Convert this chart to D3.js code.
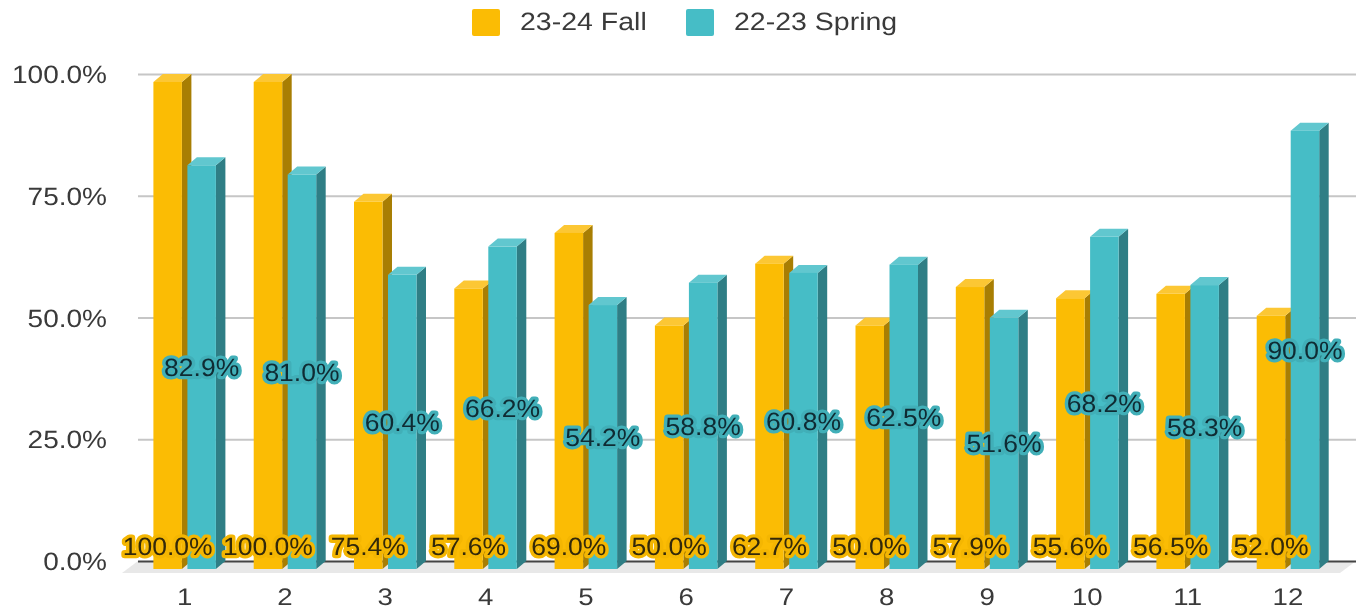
<!DOCTYPE html>
<html>
<head>
<meta charset="utf-8">
<script src="https://cdnjs.cloudflare.com/ajax/libs/d3/7.8.5/d3.min.js"></script>
<style>
  html, body { margin: 0; padding: 0; background: #fff; }
  text { font-family: "Liberation Sans", sans-serif; text-rendering: geometricPrecision; }
  svg { display: block; filter: blur(0.45px); }
</style>
</head>
<body>
<svg id="chart"></svg>
<script>
const categories = ["1", "2", "3", "4", "5", "6", "7", "8", "9", "10", "11", "12"];
const seriesNames = ["23-24 Fall", "22-23 Spring"];
const fall = [100.0, 100.0, 75.4, 57.6, 69.0, 50.0, 62.7, 50.0, 57.9, 55.6, 56.5, 52.0];
const spring = [82.9, 81.0, 60.4, 66.2, 54.2, 58.8, 60.8, 62.5, 51.6, 68.2, 58.3, 90.0];
const yTicks = [0, 25, 50, 75, 100];

const W = 1356, H = 610;
const depthX = 9.5, depthY = 8;

const colors = [
    { front: "#fbbc04", side: "#a87e03", top: "#fcc734", halo: "#f4b602", text: "#33290a" },
    { front: "#46bdc6", side: "#2f7e85", top: "#61c7cf", halo: "#41afb8", text: "#0f2b33" }
];

const svg = d3.select("#chart").attr("width", W).attr("height", H);

const x = d3.scaleBand().domain(categories).range([134.5, 1338.1]);
const x1 = d3.scaleBand().domain(seriesNames).range([0, x.bandwidth()])
    .paddingInner(0.162).paddingOuter(0.556);
const y = d3.scaleLinear().domain([0, 100]).range([561, 74]);

// the reference text is wider than the font, so stretch each label sideways
function stretch(sel, factor) {
    sel.each(function () {
        const t = d3.select(this);
        const tx = +t.attr("x") || 0, ty = +t.attr("y") || 0;
        t.attr("x", 0).attr("y", 0)
            .attr("transform", `translate(${tx},${ty}) scale(${factor},1)`);
    });
}

// floor under the bars
svg.append("polygon")
    .attr("points", [[138, 561], [1356, 561], [1340, 573], [122, 573]].join(" "))
    .attr("fill", "#e8e8e8");

// y axis + gridlines
const yAxis = svg.append("g")
    .attr("transform", "translate(138,0)")
    .call(d3.axisLeft(y).tickValues(yTicks).tickFormat(d => d.toFixed(1) + "%").tickSize(-(W - 138)).tickPadding(31));
yAxis.select(".domain").remove();
yAxis.selectAll("line").attr("stroke", d => d === 0 ? "#444" : "#c6c6c6").attr("stroke-width", 2);
yAxis.selectAll("text")
    .attr("font-size", 25).attr("fill", "#3a3a3a")
    .attr("dy", "0.34em").style("font-family", "'Liberation Sans', sans-serif")
    .call(stretch, 1.12);

// x axis
const xAxis = svg.append("g")
    .attr("transform", "translate(0,583.8)")
    .call(d3.axisBottom(x).tickSize(0).tickPadding(4));
xAxis.select(".domain").remove();
xAxis.selectAll("text")
    .attr("font-size", 24).attr("fill", "#3a3a3a").attr("dy", "0.71em")
    .style("font-family", "'Liberation Sans', sans-serif")
    .call(stretch, 1.15);

// 3d bars
const rows = categories.map((c, i) => ({ cat: c, values: [fall[i], spring[i]] }));

const groups = svg.append("g").selectAll("g")
    .data(rows)
    .enter().append("g")
    .attr("transform", d => `translate(${x(d.cat)},0)`);

const bars = groups.selectAll("g")
    .data(d => d.values.map((v, s) => ({ v, s })))
    .enter().append("g");

const bw = x1.bandwidth();
const frontTop = d => y(d.v) + depthY;
const frontBottom = y(0) + depthY;
const left = d => x1(seriesNames[d.s]);

bars.append("polygon")
    .attr("fill", d => colors[d.s].side)
    .attr("points", d => {
        const r = left(d) + bw;
        return [[r, frontTop(d)], [r + depthX, y(d.v)], [r + depthX, y(0)], [r, frontBottom]].join(" ");
    });
bars.append("polygon")
    .attr("fill", d => colors[d.s].top)
    .attr("points", d => {
        const l = left(d);
        return [[l, frontTop(d)], [l + depthX, y(d.v)], [l + bw + depthX, y(d.v)], [l + bw, frontTop(d)]].join(" ");
    });
bars.append("rect")
    .attr("fill", d => colors[d.s].front)
    .attr("x", left)
    .attr("y", frontTop)
    .attr("width", bw)
    .attr("height", d => frontBottom - frontTop(d));

// data labels go on top of every bar
const labels = svg.append("g").selectAll("g")
    .data(rows)
    .enter().append("g")
    .attr("transform", d => `translate(${x(d.cat)},0)`);

labels.selectAll("text")
    .data(d => d.values.map((v, s) => ({ v, s })))
    .enter().append("text")
    .attr("x", d => left(d) + bw / 2)
    .attr("y", d => d.s === 0 ? 545.5 : (frontTop(d) + frontBottom) / 2)
    .attr("dy", "0.36em")
    .attr("text-anchor", "middle")
    .attr("font-size", 25)
    .attr("fill", d => colors[d.s].text)
    .attr("stroke", d => colors[d.s].halo)
    .attr("stroke-width", 6.5)
    .attr("stroke-linejoin", "round")
    .attr("paint-order", "stroke")
    .text(d => d.v.toFixed(1) + "%")
    .call(stretch, 1.06);

// legend
const legendX = [472, 686];
const legend = svg.append("g").selectAll("g")
    .data(seriesNames)
    .enter().append("g")
    .attr("transform", (d, i) => `translate(${legendX[i]},9)`);
legend.append("rect")
    .attr("width", 28).attr("height", 27).attr("rx", 2)
    .attr("fill", (d, i) => colors[i].front);
legend.append("text")
    .attr("x", 48).attr("y", 12).attr("dy", "0.36em")
    .attr("font-size", 25).attr("fill", "#3a3a3a")
    .text(d => d)
    .call(stretch, 1.14);
</script>
</body>
</html>
